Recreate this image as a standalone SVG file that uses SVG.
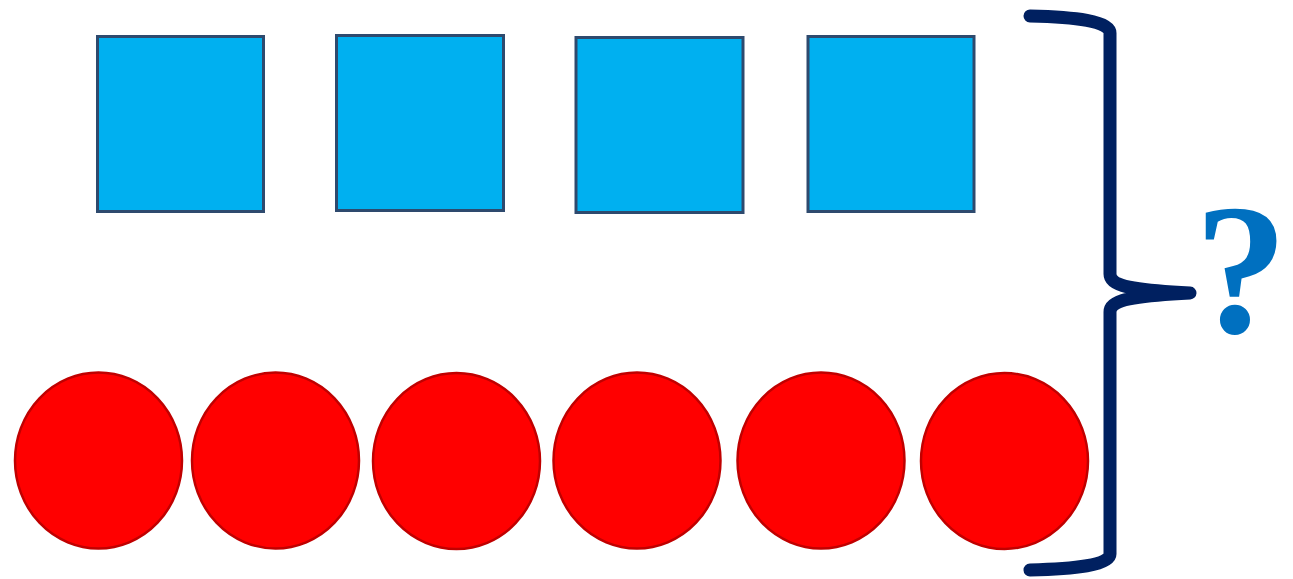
<svg xmlns="http://www.w3.org/2000/svg" width="1293" height="579" viewBox="0 0 1293 579">
<style>
.sq{fill:#00b0f0;stroke:#2e4a6e;stroke-width:3}
.ci{fill:#ff0000;stroke:#c00000;stroke-width:2.5}
.br{fill:none;stroke:#002060;stroke-width:13;stroke-linecap:round;stroke-linejoin:round}
.q{font-family:"Liberation Serif","DejaVu Serif",serif;font-weight:bold;font-size:186px;fill:#0070c0}
</style>
<rect width="1293" height="579" fill="#ffffff"/>
<g id="square1"><rect class="sq" x="97.5" y="36.5" width="166" height="175"/></g>
<g id="square2"><rect class="sq" x="336.5" y="35.5" width="167" height="175"/></g>
<g id="square3"><rect class="sq" x="576" y="37.5" width="167" height="175"/></g>
<g id="square4"><rect class="sq" x="808" y="36.5" width="166" height="175"/></g>
<g id="circle1"><ellipse class="ci" cx="98.5" cy="460.5" rx="83.5" ry="88"/></g>
<g id="circle2"><ellipse class="ci" cx="275.5" cy="460.5" rx="83.5" ry="88"/></g>
<g id="circle3"><ellipse class="ci" cx="456.5" cy="461" rx="83.5" ry="88"/></g>
<g id="circle4"><ellipse class="ci" cx="637" cy="460.5" rx="83.5" ry="88"/></g>
<g id="circle5"><ellipse class="ci" cx="821" cy="460.5" rx="83.5" ry="88"/></g>
<g id="circle6"><ellipse class="ci" cx="1004.5" cy="461" rx="83.5" ry="88"/></g>
<g id="brace">
<path class="br" d="M1030,16 C1075,17 1110,21 1110,33 L1110,274 C1110,286 1130,290 1190,293 C1130,296 1110,300 1110,312 L1110,554 C1110,565 1075,569 1030,570"/>
</g>
<g id="question"><text class="q" x="1241" y="332" text-anchor="middle">?</text></g>
</svg>
